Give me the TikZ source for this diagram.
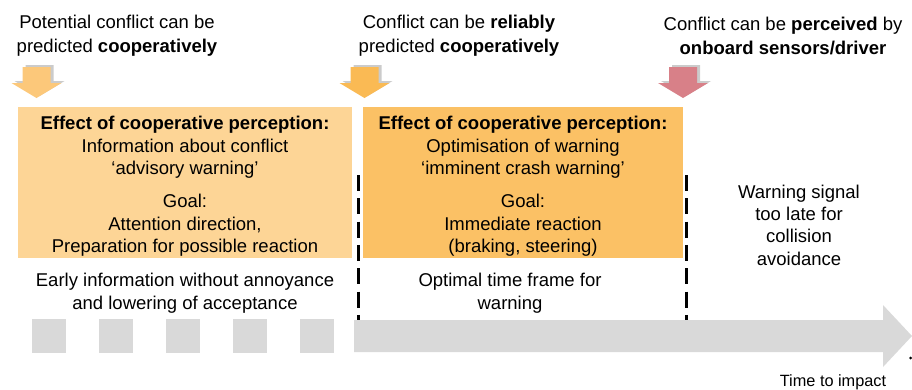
\documentclass[tikz,border=0pt]{standalone}
\usepackage{fontspec}
\setmainfont{Liberation Sans}
\definecolor{boxA}{RGB}{253,213,150}
\definecolor{boxB}{RGB}{251,193,101}
\definecolor{arrA}{RGB}{252,200,122}
\definecolor{arrB}{RGB}{250,186,84}
\definecolor{arrC}{RGB}{216,128,136}
\definecolor{greyA}{RGB}{217,217,217}
\begin{document}
\begin{tikzpicture}[x=1pt,y=-1pt,
  txt/.style={font=\fontsize{18.5}{22.3}\selectfont, align=center, inner sep=0pt},
  toptxt/.style={font=\fontsize{18.5}{24}\selectfont, align=center, inner sep=0pt},
  lowtxt/.style={font=\fontsize{18.5}{23}\selectfont, align=center, inner sep=0pt},
  divider/.style={line width=3pt, dash pattern=on 16pt off 7.3pt},
  sq/.style={fill=greyA},
  pics/darrow/.style={code={
    \fill[black!45, opacity=.45] ([shift={(3,-2)}]-14,67) -- ([shift={(3,-2)}]14,67) -- ([shift={(3,-2)}]14,83) -- ([shift={(3,-2)}]25,83) -- ([shift={(3,-2)}]0,98) -- ([shift={(3,-2)}]-25,83) -- ([shift={(3,-2)}]-14,83) -- cycle;
    \fill[#1] (-14,67) -- (14,67) -- (14,83) -- (25,83) -- (0,98) -- (-25,83) -- (-14,83) -- cycle;
  }}]
\useasboundingbox (0,0) rectangle (912,389);

% top texts
\node[toptxt] (t1) at (117,35.5) {Potential conflict can be\\predicted \textbf{cooperatively}};
\node[toptxt] (t2) at (459,35.5) {Conflict can be \textbf{reliably}\\predicted \textbf{cooperatively}};
\node[toptxt] (t3) at (783,35.5) {Conflict can be \textbf{perceived} by\\\textbf{onboard sensors/driver}};

% down arrows
\pic at (36.5,0) {darrow=arrA};
\pic at (364.5,0) {darrow=arrB};
\pic at (683,0) {darrow=arrC};

% boxes
\fill[boxA] (18,107) rectangle (352,258);
\fill[boxB] (363,107) rectangle (683,258);

% box texts
\node[txt] (b1a) at (185,147.5) {\textbf{Effect of cooperative perception:}\\Information about conflict\\‘advisory warning’};
\node[txt] (b1b) at (185,225.5) {Goal:\\Attention direction,\\Preparation for possible reaction};
\node[txt] (b2a) at (523,147.5) {\textbf{Effect of cooperative perception:}\\Optimisation of warning\\‘imminent crash warning’};
\node[txt] (b2b) at (523,225.5) {Goal:\\Immediate reaction\\(braking, steering)};

% lower texts
\node[lowtxt] (l1) at (185,293) {Early information without annoyance\\and lowering of acceptance};
\node[lowtxt] (l2) at (510,293) {Optimal time frame for\\warning};
\node[txt] (l3) at (799,225) {Warning signal\\too late for\\collision\\avoidance};

% dashed dividers
\coordinate (d1t) at (358,175); \coordinate (d1b) at (358,320);
\coordinate (d2t) at (686,175); \coordinate (d2b) at (686,320);
\draw[divider] (d1t) -- (d1b);
\draw[divider] (d2t) -- (d2b);

% grey squares
\foreach \x in {32,99,166,233,300} \fill[sq] (\x,319) rectangle ++(34,34);

% big time arrow
\fill[greyA] (354,320) -- (883,320) -- (883,305) -- (912,336) -- (883,367) -- (883,352) -- (354,352) -- cycle;
\fill (910.5,358) circle (1.5);

\node[inner sep=0pt, font=\fontsize{16.3}{18}\selectfont] (time) at (833,382) {Time to impact};
\end{tikzpicture}
\end{document}
